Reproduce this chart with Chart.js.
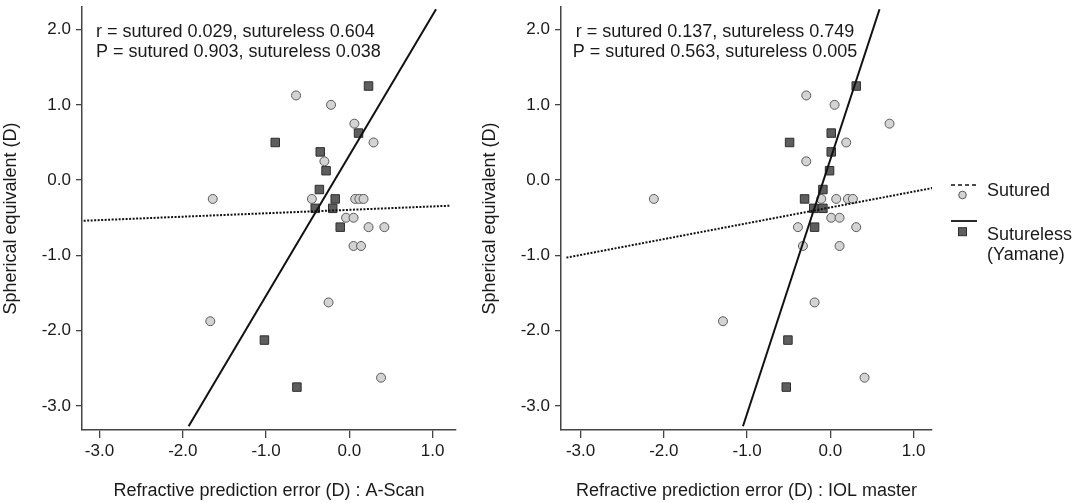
<!DOCTYPE html>
<html>
<head>
<meta charset="utf-8">
<script src="https://cdn.jsdelivr.net/npm/chart.js@4.4.1/dist/chart.umd.min.js"></script>
<style>
  html, body { margin: 0; padding: 0; background: #fff; }
  #wrap { position: relative; width: 1076px; height: 503px; }
  #chartA { position: absolute; left: 0; top: 0; }
  #chartB { position: absolute; left: 479px; top: 0; }
</style>
</head>
<body>
<div id="wrap">
  <canvas id="chartA" width="479" height="503"></canvas>
  <canvas id="chartB" width="597" height="503"></canvas>
</div>
<script>
// Spherical equivalent (y) per eye, and refractive prediction error (x) for each device
const suturedSE = [1.125, 1.0, 0.75, 0.5, 0.25, -0.25, -0.25, -0.25, -0.25, -0.25, -0.5, -0.5, -0.625, -0.625, -0.875, -0.875, -1.625, -1.875, -2.625];
const suturedAScan = [-0.64, -0.22, 0.06, 0.29, -0.30, -1.64, -0.45, 0.07, 0.12, 0.17, -0.04, 0.05, 0.23, 0.42, 0.05, 0.14, -0.25, -1.67, 0.38];
const suturedIOL = [-0.29, 0.05, 0.71, 0.19, -0.29, -2.12, -0.11, 0.07, 0.21, 0.27, 0.01, 0.11, -0.39, 0.31, -0.33, 0.11, -0.19, -1.29, 0.41];

const suturelessSE = [1.25, 0.625, 0.5, 0.375, 0.125, -0.125, -0.25, -0.375, -0.375, -0.625, -2.125, -2.75];
const suturelessAScan = [0.23, 0.11, -0.89, -0.35, -0.28, -0.36, -0.17, -0.41, -0.20, -0.11, -1.02, -0.63];
const suturelessIOL = [0.31, 0.01, -0.49, 0.01, -0.01, -0.09, -0.31, -0.20, -0.09, -0.19, -0.51, -0.53];

// Fit line end points
const aScanSuturedFitX = [-3.19, 1.21];
const aScanSuturedFitY = [-0.54, -0.34];
const aScanSuturelessFitX = [-1.93, 1.04];
const aScanSuturelessFitY = [-3.27, 2.27];
const iolSuturedFitX = [-3.17, 1.25];
const iolSuturedFitY = [-1.03, -0.10];
const iolSuturelessFitX = [-1.05, 0.59];
const iolSuturelessFitY = [-3.27, 2.27];

// Axis ticks
const xTicks = [-3, -2, -1, 0, 1];
const yTicks = [-3, -2, -1, 0, 1, 2];

// Texts
const statsAScan = ['r = sutured 0.029, sutureless 0.604', 'P = sutured 0.903, sutureless 0.038'];
const statsIOL = ['r = sutured 0.137, sutureless 0.749', 'P = sutured 0.563, sutureless 0.005'];
const legendLabels = ['Sutured', 'Sutureless', '(Yamane)'];
const yTitle = 'Spherical equivalent (D)';
const xTitleAScan = 'Refractive prediction error (D) : A-Scan';
const xTitleIOL = 'Refractive prediction error (D) : IOL master';

Chart.defaults.font.family = '"Liberation Sans", Arial, sans-serif';
Chart.defaults.color = '#222';

const INK = '#1a1a1a';
const AXIS = '#444';

function pts(xs, ys) {
  return xs.map((x, i) => ({ x: x, y: ys[i] }));
}

function buildDatasets(suturedX, suturelessX, sFitX, sFitY, slFitX, slFitY) {
  return [
    {
      data: pts(sFitX, sFitY), showLine: true, pointRadius: 0,
      borderColor: '#111', borderWidth: 2, borderDash: [2, 1.5], order: 0
    },
    {
      data: pts(slFitX, slFitY), showLine: true, pointRadius: 0,
      borderColor: '#111', borderWidth: 2, order: 0
    },
    {
      data: pts(suturedX, suturedSE), pointStyle: 'circle', pointRadius: 4.5,
      backgroundColor: '#d3d3d3', borderColor: '#5a5a5a', borderWidth: 1, order: 1
    },
    {
      data: pts(suturelessX, suturelessSE), pointStyle: 'rect', pointRadius: 6,
      backgroundColor: '#5e5e5e', borderColor: '#2e2e2e', borderWidth: 1, order: 1
    }
  ];
}

function buildScales(xMin, xMax, xTitle) {
  return {
    x: {
      type: 'linear', min: xMin, max: xMax,
      afterBuildTicks: s => { s.ticks = xTicks.map(v => ({ value: v })); },
      afterFit: s => { s.height = 73; s.paddingLeft = 0; s.paddingRight = 0; },
      grid: { drawOnChartArea: false, drawTicks: true, tickLength: 8, color: AXIS, lineWidth: 1.3 },
      border: { display: true, color: AXIS, width: 1.5 },
      ticks: { padding: 3, color: INK, font: { size: 17 }, maxRotation: 0, callback: v => v.toFixed(1) },
      title: { display: true, text: xTitle, color: INK, font: { size: 18 }, padding: { top: 0, bottom: 1 } }
    },
    y: {
      type: 'linear', min: -3.32, max: 2.30,
      afterBuildTicks: s => { s.ticks = yTicks.map(v => ({ value: v })); },
      afterFit: s => { s.width = 82; s.paddingTop = 0; s.paddingBottom = 0; },
      grid: { drawOnChartArea: false, drawTicks: true, tickLength: 6, color: AXIS, lineWidth: 1.3 },
      border: { display: true, color: AXIS, width: 1.5 },
      ticks: { padding: 5, color: INK, font: { size: 17 }, callback: v => v.toFixed(1) },
      title: { display: true, text: yTitle, color: INK, font: { size: 18 }, padding: { top: 0, bottom: 0 } }
    }
  };
}

// Draws the r / P lines inside the plot area
const statsPlugin = {
  id: 'stats',
  afterDraw(chart, args, opts) {
    const { ctx, chartArea } = chart;
    ctx.save();
    ctx.font = '18px "Liberation Sans", Arial, sans-serif';
    ctx.fillStyle = INK;
    ctx.textAlign = opts.align;
    ctx.textBaseline = 'alphabetic';
    opts.lines.forEach((t, i) => {
      ctx.fillText(t, chartArea.left + opts.dx, chartArea.top + 29.5 + i * 20);
    });
    ctx.restore();
  }
};

// Legend to the right of the second plot
const legendPlugin = {
  id: 'sideLegend',
  afterDraw(chart) {
    const { ctx, chartArea } = chart;
    const x0 = chartArea.right + 19;
    const x1 = chartArea.right + 45;
    const cx = chartArea.right + 30.5;
    const tx = chartArea.right + 55;
    ctx.save();
    ctx.strokeStyle = '#111';
    ctx.lineWidth = 1.5;
    // sutured: dashed line + circle
    ctx.setLineDash([4, 3]);
    ctx.beginPath(); ctx.moveTo(x0, 185); ctx.lineTo(x1, 185); ctx.stroke();
    ctx.setLineDash([]);
    ctx.beginPath(); ctx.arc(cx, 195, 3.8, 0, Math.PI * 2);
    ctx.fillStyle = '#d3d3d3'; ctx.fill();
    ctx.lineWidth = 1; ctx.strokeStyle = '#5a5a5a'; ctx.stroke();
    // sutureless: solid line + square
    ctx.strokeStyle = '#111'; ctx.lineWidth = 1.8;
    ctx.beginPath(); ctx.moveTo(x0, 221); ctx.lineTo(x1, 221); ctx.stroke();
    ctx.fillStyle = '#5e5e5e';
    ctx.fillRect(cx - 4, 227.7, 8, 8);
    ctx.lineWidth = 1; ctx.strokeStyle = '#2e2e2e';
    ctx.strokeRect(cx - 4, 227.7, 8, 8);
    // labels
    ctx.font = '18px "Liberation Sans", Arial, sans-serif';
    ctx.fillStyle = INK;
    ctx.textAlign = 'left';
    ctx.textBaseline = 'alphabetic';
    ctx.fillText(legendLabels[0], tx, 196);
    ctx.fillText(legendLabels[1], tx, 239.5);
    ctx.fillText(legendLabels[2], tx, 260);
    ctx.restore();
  }
};

const commonOptions = {
  responsive: false,
  animation: false,
  plugins: { legend: { display: false }, tooltip: { enabled: false } }
};

new Chart(document.getElementById('chartA'), {
  type: 'scatter',
  data: { datasets: buildDatasets(suturedAScan, suturelessAScan, aScanSuturedFitX, aScanSuturedFitY, aScanSuturelessFitX, aScanSuturelessFitY) },
  options: Object.assign({}, commonOptions, {
    layout: { padding: { top: 5, right: 23, left: 0, bottom: 0 } },
    scales: buildScales(-3.21, 1.28, xTitleAScan),
    plugins: Object.assign({}, commonOptions.plugins, { stats: { lines: statsAScan, align: 'left', dx: 14 } })
  }),
  plugins: [statsPlugin]
});

new Chart(document.getElementById('chartB'), {
  type: 'scatter',
  data: { datasets: buildDatasets(suturedIOL, suturelessIOL, iolSuturedFitX, iolSuturedFitY, iolSuturelessFitX, iolSuturelessFitY) },
  options: Object.assign({}, commonOptions, {
    layout: { padding: { top: 5, right: 144, left: 0, bottom: 0 } },
    scales: buildScales(-3.235, 1.22, xTitleIOL),
    plugins: Object.assign({}, commonOptions.plugins, { stats: { lines: statsIOL, align: 'center', dx: 154 } })
  }),
  plugins: [statsPlugin, legendPlugin]
});
</script>
</body>
</html>
